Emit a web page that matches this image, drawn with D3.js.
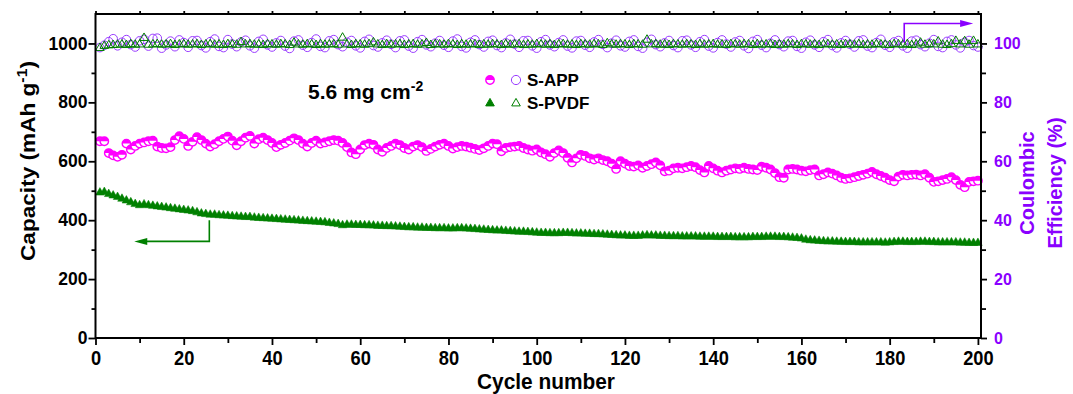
<!DOCTYPE html>
<html><head><meta charset="utf-8">
<script src="https://cdn.jsdelivr.net/npm/d3@7"></script>
<style>
body{margin:0;background:#fff}
svg{display:block}
text{font-family:"Liberation Sans",Arial,sans-serif;font-weight:bold}
</style>
</head><body>
<svg id="c" width="1073" height="394"></svg>
<script>
// ---------------- DATA ----------------
const cycles = d3.range(1, 201);
const xTicks = [0,20,40,60,80,100,120,140,160,180,200];
const xMinorTicks = [10,30,50,70,90,110,130,150,170,190];
const yLeftTicks = [0,200,400,600,800,1000];
const yLeftMinor = [100,300,500,700,900];
const yRightTicks = [0,20,40,60,80,100];
const yRightMinor = [10,30,50,70,90];
const seriesNames = ["S-APP","S-PVDF"];

const capAPP = [
668,668,628,620,615,622,660,640,652,660,664,668,670,650,645,644,648,672,685,676,
652,666,682,672,660,650,658,668,676,684,670,654,668,680,686,660,675,680,672,662,
648,656,662,670,678,672,660,650,662,670,660,664,668,672,670,662,648,630,624,640,
655,660,656,640,632,645,652,660,655,645,640,650,655,648,635,642,650,656,660,652,
643,648,652,650,646,642,638,644,652,660,658,634,645,648,650,652,645,640,636,640,
630,624,615,628,637,628,612,596,610,622,618,610,606,610,604,600,592,574,600,592,
584,582,586,578,584,590,596,586,566,568,576,578,576,580,584,580,570,562,584,576,
568,562,568,572,576,574,578,574,572,570,582,578,572,560,546,544,572,574,572,568,
566,570,572,552,556,562,558,552,544,540,542,546,550,554,558,564,556,550,544,536,
532,548,554,552,554,555,552,556,544,530,532,536,540,546,536,520,512,530,532,534];

const capPVDF = [
495,497,490,485,480,474,468,462,456,452,455,452,450,448,446,444,442,440,438,436,
434,432,428,424,422,420,420,418,417,416,415,414,413,412,412,410,409,408,407,406,
405,404,403,402,401,400,399,398,397,396,395,394,392,390,388,384,386,386,385,385,
384,384,383,382,382,381,381,380,379,378,377,377,376,376,375,375,374,374,374,373,
373,374,374,373,372,371,370,369,368,367,366,366,365,364,363,362,362,361,360,359,
358,358,357,357,357,358,358,357,356,356,355,355,354,354,353,352,351,350,349,349,
348,348,348,349,350,349,349,348,348,347,347,347,346,346,346,346,345,345,345,345,
344,344,344,344,343,343,343,343,344,344,344,345,345,345,344,344,343,342,341,339,
335,333,332,331,330,329,329,328,328,327,327,327,326,326,326,326,326,326,325,326,
327,328,328,327,327,327,328,328,327,327,326,326,326,326,326,325,325,324,324,324];

const ceAPP = [
98.6,99.4,100.6,101.6,99.2,100.4,101.3,99.6,98.8,100.9,101.4,99.1,101.7,101.8,98.4,99.5,100.8,98.9,101.2,100.3,
98.7,100.9,101.0,99.3,98.5,100.6,101.5,99.0,98.6,101.3,99.8,98.9,100.5,101.1,99.2,98.4,100.7,101.4,99.5,98.8,
100.2,101.0,99.1,98.3,100.8,101.2,99.4,98.7,100.3,101.5,99.0,98.6,100.9,101.3,99.6,98.9,100.4,101.0,99.2,98.5,
100.7,101.4,99.3,98.8,100.2,101.1,99.7,98.6,100.9,101.2,99.1,98.4,100.6,101.3,99.5,98.9,100.1,101.0,99.4,98.7,
100.8,101.5,99.0,98.5,100.4,101.2,99.6,98.8,100.7,101.1,99.3,98.6,100.2,101.4,99.8,98.7,100.9,101.0,99.2,98.4,
100.6,101.3,99.5,98.9,100.3,101.2,99.1,98.5,100.8,101.0,99.4,98.7,100.5,101.3,99.7,98.6,100.1,101.1,99.2,98.8,
100.7,101.2,99.0,98.4,100.4,101.4,99.6,98.9,100.2,101.0,99.3,98.6,100.9,101.1,99.5,98.7,100.6,101.3,99.1,98.5,
100.3,101.2,99.8,98.8,100.5,101.0,99.2,98.3,100.7,101.3,99.4,98.6,100.1,101.2,99.6,98.9,100.8,101.0,99.0,98.4,
100.4,101.1,99.5,98.7,100.6,101.3,99.3,98.5,100.2,101.0,99.7,98.8,100.9,101.2,99.1,98.6,100.3,101.4,99.4,98.7,
100.5,101.0,99.2,98.4,100.8,101.1,99.6,98.9,100.1,101.3,99.0,98.6,100.7,101.2,99.5,98.5,100.4,101.0,99.3,98.8];

const cePVDF = [
98.6,99.3,99.5,99.6,99.7,99.8,99.6,99.9,99.7,99.8,102.0,99.7,99.8,99.9,99.7,99.8,99.9,99.6,99.8,99.9,
99.7,99.8,99.9,99.6,99.8,99.9,99.7,99.8,99.6,99.9,99.8,99.7,100.6,99.8,99.9,99.7,99.8,99.6,99.9,99.8,
99.7,99.9,99.8,99.6,100.4,99.8,99.7,99.9,99.8,99.6,99.9,99.7,99.8,99.9,99.7,102.1,99.8,99.6,99.9,99.8,
99.7,99.9,100.5,99.8,99.6,99.9,99.7,99.8,99.9,99.6,99.8,99.9,99.7,99.8,100.3,99.6,99.9,99.8,99.7,99.9,
99.8,99.6,99.9,99.7,99.8,99.9,99.6,99.8,99.7,99.9,99.8,99.6,99.9,99.7,99.8,99.9,99.6,99.8,99.7,99.9,
99.8,99.7,99.9,99.6,99.8,99.9,99.7,99.8,99.6,99.9,99.8,99.7,99.9,99.8,99.6,100.2,99.8,99.7,99.9,99.8,
99.6,99.9,99.8,99.7,101.4,99.8,99.9,99.7,99.8,99.6,99.9,99.8,99.7,99.9,99.8,99.6,99.9,99.7,99.8,99.9,
99.7,99.8,99.6,99.9,99.8,99.7,99.9,99.8,99.6,99.9,99.7,99.8,99.9,99.6,99.8,99.7,99.9,99.8,99.6,99.9,
99.8,99.7,99.9,99.6,99.8,99.9,99.7,99.8,99.6,99.9,99.8,99.7,99.9,99.6,99.8,99.7,99.9,99.8,99.7,99.6,
99.9,99.8,99.7,99.9,99.6,99.8,100.4,99.7,99.9,99.8,100.8,99.7,99.6,99.9,101.0,99.8,100.9,99.7,101.0,99.8];

// ---------------- STYLE ----------------
const MAGENTA = "#ff00ff", PURPLE = "#8a00ff", CIRC = "#9a3cff", GREEN = "#008000";

const svg = d3.select("#c");
const x = d3.scaleLinear().domain([0, 200.7]).range([95.5, 981]);
const yL = d3.scaleLinear().domain([0, 1100]).range([338, 14]);
const yR = d3.scaleLinear().domain([0, 110]).range([338, 14]);

const triPath = "M0,-4.6L4.3,2.9L-4.3,2.9Z";
const r = 4.2;
const halfTop = `M${-r},0A${r},${r} 0 0 1 ${r},0Z`;

// ---------------- MARKERS ----------------
const gData = svg.append("g");
gData.append("g").selectAll("circle").data(cycles).join("circle")
  .attr("cx", c => x(c)).attr("cy", (c,i) => yR(ceAPP[i])).attr("r", 4.3)
  .attr("fill", "none").attr("stroke", CIRC).attr("stroke-width", 1);
gData.append("g").selectAll("path").data(cycles).join("path")
  .attr("transform", (c,i) => `translate(${x(c)},${yR(cePVDF[i])})`)
  .attr("d", triPath).attr("fill", "none").attr("stroke", GREEN).attr("stroke-width", 1);
const gA = gData.append("g").selectAll("g").data(cycles).join("g")
  .attr("transform", (c,i) => `translate(${x(c)},${yL(capAPP[i])})`);
gA.append("circle").attr("r", r).attr("fill", "#fff").attr("stroke", MAGENTA).attr("stroke-width", 1.4);
gA.append("path").attr("d", halfTop).attr("fill", MAGENTA);
gData.append("g").selectAll("path").data(cycles).join("path")
  .attr("transform", (c,i) => `translate(${x(c)},${yL(capPVDF[i])})`)
  .attr("d", triPath).attr("fill", GREEN).attr("stroke", GREEN).attr("stroke-width", 0.5);

// ---------------- AXES ----------------
function styleAxis(g){ g.select(".domain").remove(); g.selectAll("line").attr("stroke-width", 1.8); }

svg.append("g").attr("transform", "translate(0,338)")
  .call(d3.axisBottom(x).tickValues(xMinorTicks).tickSize(5).tickFormat(""))
  .call(styleAxis);
const gxb = svg.append("g").attr("transform", "translate(0,338)")
  .call(d3.axisBottom(x).tickValues(xTicks).tickSize(7).tickFormat(d3.format("d")))
  .call(styleAxis);
gxb.selectAll("text").attr("y", 27).attr("dy", 0).attr("fill", "#000")
  .style("font-size", "21px").attr("transform", "scale(0.87,1)");
svg.append("g").attr("transform", "translate(0,14)")
  .call(d3.axisTop(x).tickValues(xTicks.concat(xMinorTicks)).tickSize(3).tickFormat(""))
  .call(styleAxis);
svg.append("g").attr("transform", "translate(95.5,0)")
  .call(d3.axisLeft(yL).tickValues(yLeftMinor).tickSize(4).tickFormat(""))
  .call(styleAxis);
const gyl = svg.append("g").attr("transform", "translate(95.5,0)")
  .call(d3.axisLeft(yL).tickValues(yLeftTicks).tickSize(7).tickPadding(1).tickFormat(d3.format("d")))
  .call(styleAxis);
gyl.selectAll("text").attr("fill", "#000").style("font-size", "17.5px");
svg.append("g").attr("transform", "translate(981,0)")
  .call(d3.axisRight(yR).tickValues(yRightMinor).tickSize(5).tickFormat(""))
  .call(styleAxis);
const gyr = svg.append("g").attr("transform", "translate(981,0)")
  .call(d3.axisRight(yR).tickValues(yRightTicks).tickSize(6).tickPadding(7).tickFormat(d3.format("d")))
  .call(styleAxis);
gyr.selectAll("text").attr("fill", PURPLE).style("font-size", "16px");

svg.append("rect").attr("x", 95.5).attr("y", 14).attr("width", 981 - 95.5).attr("height", 338 - 14)
  .attr("fill", "none").attr("stroke", "#000").attr("stroke-width", 2);

// ---------------- TITLES ----------------
svg.append("text").attr("x", 546).attr("y", 389).attr("text-anchor", "middle")
  .attr("textLength", 138).attr("lengthAdjust", "spacingAndGlyphs")
  .style("font-size", "22px").text("Cycle number");

const yt = svg.append("text").attr("transform", "translate(35,161) rotate(-90)")
  .attr("text-anchor", "middle").attr("textLength", 200).attr("lengthAdjust", "spacingAndGlyphs")
  .style("font-size", "20px");
yt.append("tspan").text("Capacity (mAh g");
yt.append("tspan").attr("dy", -8).style("font-size", "14px").text("-1");
yt.append("tspan").attr("dy", 8).text(")");

svg.append("text").attr("transform", "translate(1034,183) rotate(-90)")
  .attr("text-anchor", "middle").attr("fill", PURPLE).style("font-size", "20px").text("Coulombic");
svg.append("text").attr("transform", "translate(1062,183) rotate(-90)")
  .attr("text-anchor", "middle").attr("fill", PURPLE).style("font-size", "20px").text("Efficiency (%)");

const lt = svg.append("text").attr("x", 308).attr("y", 99).style("font-size", "21px");
lt.append("tspan").text("5.6 mg cm");
lt.append("tspan").attr("dy", -8).style("font-size", "14px").text("-2");

// ---------------- LEGEND ----------------
const lg = svg.append("g");
const l1 = lg.append("g").attr("transform", "translate(490,80)");
l1.append("circle").attr("r", r).attr("fill", "#fff").attr("stroke", MAGENTA).attr("stroke-width", 1.4);
l1.append("path").attr("d", halfTop).attr("fill", MAGENTA);
lg.append("circle").attr("cx", 516).attr("cy", 80).attr("r", 4.6).attr("fill", "none").attr("stroke", CIRC).attr("stroke-width", 1);
lg.append("text").attr("x", 527).attr("y", 86).style("font-size", "17px").text(seriesNames[0]);
lg.append("path").attr("transform", "translate(490,103)").attr("d", triPath).attr("fill", GREEN).attr("stroke", GREEN);
lg.append("path").attr("transform", "translate(516,103)").attr("d", triPath).attr("fill", "none").attr("stroke", GREEN);
lg.append("text").attr("x", 527).attr("y", 109).style("font-size", "17px").text(seriesNames[1]);

// ---------------- ARROWS ----------------
const ax1 = x(25.8), ay1 = yL(400), ay2 = yL(328), axEnd = x(11.5);
svg.append("path").attr("d", `M${ax1},${ay1}V${ay2}H${axEnd}`).attr("fill", "none").attr("stroke", GREEN).attr("stroke-width", 1.6);
svg.append("path").attr("d", `M${axEnd - 12},${ay2}L${axEnd + 1},${ay2 - 3.5}L${axEnd + 1},${ay2 + 3.5}Z`).attr("fill", GREEN);

const bx1 = x(183.3), by1 = yR(100.3), by2 = yR(106.8), bxEnd = x(196.2);
svg.append("path").attr("d", `M${bx1},${by1}V${by2}H${bxEnd}`).attr("fill", "none").attr("stroke", PURPLE).attr("stroke-width", 1.6);
svg.append("path").attr("d", `M${bxEnd + 12},${by2}L${bxEnd - 1},${by2 - 3.5}L${bxEnd - 1},${by2 + 3.5}Z`).attr("fill", PURPLE);
</script>
</body></html>
